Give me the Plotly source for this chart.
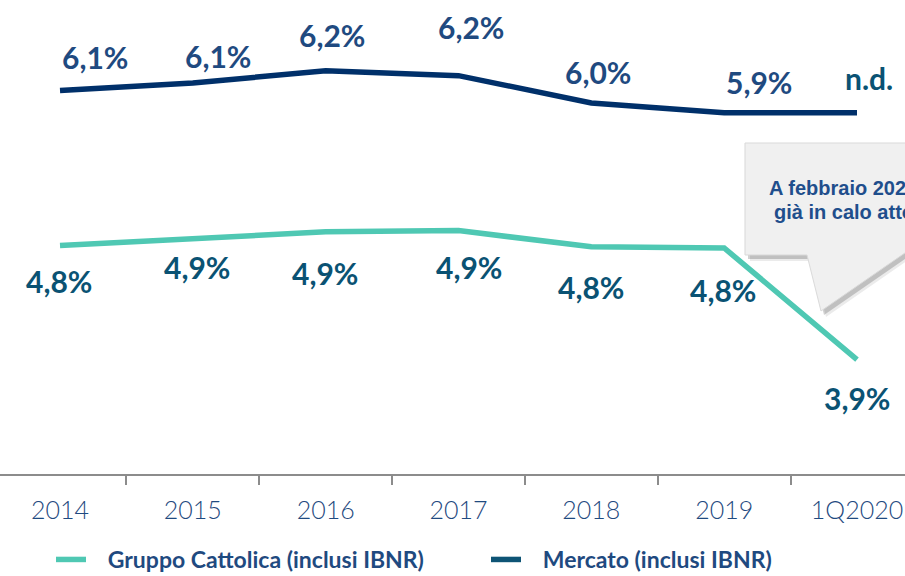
import plotly.graph_objects as go

# ---- data ----
categories = ["2014", "2015", "2016", "2017", "2018", "2019", "1Q2020"]
cattolica = [4.82, 4.87, 4.93, 4.94, 4.81, 4.80, 3.90]
mercato = [6.07, 6.13, 6.23, 6.19, 5.97, 5.89, 5.89]
cattolica_labels = ["4,8%", "4,9%", "4,9%", "4,9%", "4,8%", "4,8%", "3,9%"]
mercato_labels = ["6,1%", "6,1%", "6,2%", "6,2%", "6,0%", "5,9%", "n.d."]
series_names = ["Gruppo Cattolica (inclusi IBNR)", "Mercato (inclusi IBNR)"]
callout_lines = ["A febbraio 2020 il rapporto", "già in calo attorno al 3,5%"]

# ---- style ----
W, H = 905, 576
MB = 102
PH = H - MB
TEAL = "#4fc8b3"
NAVY = "#00306a"
NAVY_LBL = "#1f4a80"
TEAL_LBL = "#0a5273"
LEG_MERC = "#0e5475"
AX_GRAY = "#8c8c8c"
PAD = "\u00a0\u00a0\u00a0"

# label offsets in px (dx, dy up)
merc_off = [(35, 34), (25, 27), (6, 36), (12, 49), (7, 31), (35, 31), (12, 35)]
catt_off = [(-1, -36), (4, -28), (-1, -41), (10, -36), (0, -40), (-1, -42), (0, -38)]

fig = go.Figure()
fig.add_trace(go.Scatter(x=categories, y=cattolica, mode="lines",
                         line=dict(color=TEAL, width=5.5), legend="legend",
                         name=PAD + series_names[0], hoverinfo="skip"))
fig.add_trace(go.Scatter(x=categories, y=mercato, mode="lines",
                         line=dict(color=NAVY, width=5.5), showlegend=False,
                         name=series_names[1], hoverinfo="skip"))
# legend entry for Mercato (the slide's legend key uses a teal-blue tone)
fig.add_trace(go.Scatter(x=[None], y=[None], mode="lines",
                         line=dict(color=LEG_MERC, width=5.5), legend="legend2",
                         name=PAD + series_names[1], hoverinfo="skip"))

ann = []
for i, c in enumerate(categories):
    dx, dy = merc_off[i]
    col = TEAL_LBL if mercato_labels[i] == "n.d." else NAVY_LBL
    ann.append(dict(x=i, y=mercato[i], xref="x", yref="y", text=mercato_labels[i],
                    showarrow=False, xshift=dx, yshift=dy,
                    font=dict(family="Lato", size=30, color=col, weight="bold")))
    dx, dy = catt_off[i]
    ann.append(dict(x=i, y=cattolica[i], xref="x", yref="y", text=cattolica_labels[i],
                    showarrow=False, xshift=dx, yshift=dy,
                    font=dict(family="Lato", size=30, color=TEAL_LBL, weight="bold")))


def px(x, y):
    return x / W, 1 - y / PH


def path(pts):
    s = ""
    for k, (x, y) in enumerate(pts):
        a, b = px(x, y)
        s += ("M" if k == 0 else "L") + f"{a:.5f},{b:.5f} "
    return s + "Z"


callout = [(745, 143), (915, 143), (915, 246), (821, 311), (807, 255), (745, 255)]
shadow2 = [(x + 5, y + 6) for x, y in callout]
shadow = [(x + 3, y + 4) for x, y in callout]
shapes = [
    dict(type="path", xref="paper", yref="paper", path=path(shadow2),
         fillcolor="rgba(0,0,0,0.08)", line=dict(width=0), layer="above"),
    dict(type="path", xref="paper", yref="paper", path=path(shadow),
         fillcolor="rgba(0,0,0,0.18)", line=dict(width=0), layer="above"),
    dict(type="path", xref="paper", yref="paper", path=path(callout),
         fillcolor="#f0f0f0", line=dict(color="#d9d9d9", width=1), layer="above"),
]
for j, (t, yy, xx) in enumerate([(callout_lines[0], 188, 767), (callout_lines[1], 212, 772)]):
    a, b = px(xx, yy)
    ann.append(dict(x=a, y=b, xref="paper", yref="paper", text=t, showarrow=False,
                    xanchor="left", yanchor="middle",
                    font=dict(family="Liberation Sans", size=20, color="#1f4e8c", weight="bold")))

n = len(categories)
scale = (857 - 60) / (n - 1)
r0 = -60 / scale
r1 = r0 + W / scale

leg_common = dict(orientation="h", xanchor="left", y=1 - 581 / PH, yanchor="bottom",
                  font=dict(family="Lato", size=23, color="#1f4a80", weight="bold"),
                  bgcolor="rgba(0,0,0,0)", borderwidth=0)

fig.update_layout(
    width=W, height=H,
    margin=dict(l=0, r=0, t=0, b=MB, pad=0, autoexpand=False),
    paper_bgcolor="white", plot_bgcolor="white",
    xaxis=dict(type="category", range=[r0, r1], showgrid=False, zeroline=False,
               showline=True, linecolor=AX_GRAY, linewidth=2,
               ticks="outside", tickson="boundaries", ticklen=9, tickcolor=AX_GRAY, tickwidth=1.5,
               tickfont=dict(family="Lato", size=25, color="#1f4a80", weight=300),
               ticklabelstandoff=13),
    yaxis=dict(range=[2.977, 6.8], visible=False, showgrid=False, zeroline=False),
    showlegend=True,
    legend=dict(x=51 / W, **leg_common),
    legend2=dict(x=486 / W, **leg_common),
    annotations=ann,
    shapes=shapes,
)

fig.write_html("out.html", config={"displayModeBar": False},
               post_script="document.body.style.margin='0';document.body.style.overflow='hidden';")
